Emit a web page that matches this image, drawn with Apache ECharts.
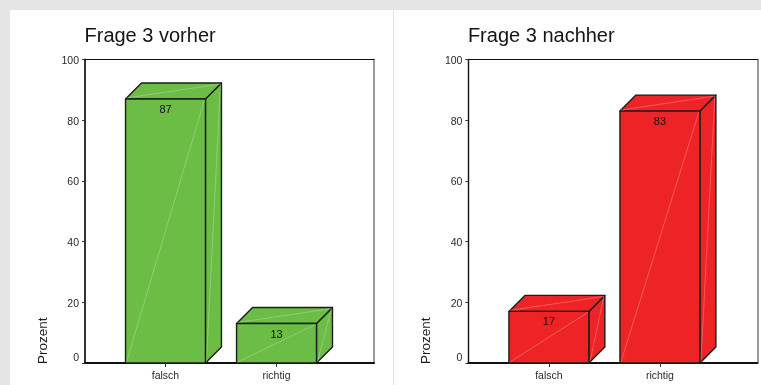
<!DOCTYPE html>
<html>
<head>
<meta charset="utf-8">
<style>
  html, body { margin: 0; padding: 0; background: #e5e5e5; }
  #wrap { position: relative; width: 761px; height: 385px; overflow: hidden; }
  .panel { position: absolute; top: 10px; bottom: 0; background: #fff; }
  #chart { position: absolute; left: 0; top: 0; width: 761px; height: 385px; }
</style>
</head>
<body>
<div id="wrap">
  <div class="panel" style="left:10px;width:383px"></div>
  <div class="panel" style="left:394px;width:367px"></div>
  <div id="chart"></div>
</div>
<script src="https://cdn.jsdelivr.net/npm/echarts@6/dist/echarts.min.js"></script>
<script>
const categories = ['falsch', 'richtig'];
const vorher = [87, 13];
const nachher = [17, 83];
const yTicks = [0, 20, 40, 60, 80, 100];
const titles = ['Frage 3 vorher', 'Frage 3 nachher'];
const yAxisTitle = 'Prozent';
const colors = ['#6bbd45', '#ee2326'];

const FONT = '"Liberation Sans", Arial, sans-serif';
const DEPTH = 16;
const BAR_SPAN = 0.72;
const EDGE = '#1c1c1c';
const SHEEN = 'rgba(255,255,255,0.42)';
const plots = [{ left: 85 }, { left: 468.4 }];
const PLOT_W = 289, PLOT_TOP = 59.5, PLOT_H = 303.5;

// Box with front, top and side faces, plus thin sheen lines across each face.
function renderBox(fill, params, api) {
  const idx = api.value(0), val = api.value(1);
  const top = api.coord([idx, val]);
  const base = api.coord([idx, 0]);
  const w = api.size([BAR_SPAN, 0])[0];
  const x0 = top[0] - w / 2, x1 = top[0] + w / 2, y0 = top[1], y1 = base[1];
  const d = DEPTH;
  const faceStyle = { fill, stroke: EDGE, lineWidth: 1.4, lineJoin: 'round' };
  const poly = pts => ({ type: 'polygon', shape: { points: pts }, style: faceStyle });
  const sheen = (a, b, c, e) => ({
    type: 'line', shape: { x1: a, y1: b, x2: c, y2: e },
    style: { stroke: SHEEN, lineWidth: 0.6 }, silent: true
  });
  return {
    type: 'group',
    children: [
      poly([[x1, y1], [x1 + d, y1 - d], [x1 + d, y0 - d], [x1, y0]]),
      poly([[x0, y0], [x0 + d, y0 - d], [x1 + d, y0 - d], [x1, y0]]),
      poly([[x0, y0], [x1, y0], [x1, y1], [x0, y1]]),
      sheen(x0 + 1, y1 - 1, x1 - 1, y0 + 1),
      sheen(x0 + 1, y0 - 1, x1 + d - 1, y0 - d + 1),
      sheen(x1 + 1, y1 - 1, x1 + d - 1, y0 - d + 1),
      {
        type: 'text',
        style: {
          x: top[0], y: y0 + 11, text: String(val),
          fill: '#111', font: '11px ' + FONT, align: 'center', verticalAlign: 'middle'
        }
      }
    ]
  };
}

const seriesValues = [vorher, nachher];
const textStyle = { color: '#2a2a2a', fontFamily: FONT, fontSize: 10.5 };

const option = {
  animation: false,
  backgroundColor: 'transparent',
  title: plots.map((p, i) => ({
    text: titles[i], left: p.left - 0.5, top: 26, padding: 0,
    textStyle: { fontFamily: FONT, fontSize: 20, fontWeight: 'normal', color: '#141414' }
  })),
  grid: plots.map(p => ({
    left: p.left, top: PLOT_TOP, width: PLOT_W, height: PLOT_H,
    show: false, containLabel: false
  })),
  xAxis: plots.flatMap((p, i) => [
    {
      type: 'value', gridIndex: i, position: 'bottom',
      min: -0.725, max: 1.878,
      splitLine: { show: false },
      axisLine: { show: true, onZero: false, lineStyle: { color: '#111', width: 2 } },
      axisTick: { show: true, customValues: [0, 1], length: 4, lineStyle: { color: '#333', width: 1 } },
      axisLabel: {
        ...textStyle, margin: 8, customValues: [0, 1],
        formatter: v => categories[v]
      }
    },
    {
      type: 'value', gridIndex: i, position: 'top',
      min: -0.725, max: 1.878,
      splitLine: { show: false },
      axisLine: { show: true, onZero: false, lineStyle: { color: '#111', width: 1.2 } },
      axisTick: { show: false }, axisLabel: { show: false }
    }
  ]),
  yAxis: plots.flatMap((p, i) => [
    {
      type: 'value', gridIndex: i, position: 'left',
      min: yTicks[0], max: yTicks[yTicks.length - 1], interval: 20,
      splitLine: { show: false },
      axisLine: { show: true, onZero: false, lineStyle: { color: i ? '#111' : '#333', width: i ? 1.4 : 2 } },
      axisTick: { show: true, length: 3, lineStyle: { color: '#333', width: 1 } },
      axisLabel: {
        margin: 6,
        // The zero label sits above the baseline so it clears the x axis line.
        formatter: v => (v === yTicks[0] ? '{zero|' + v + '}' : '{tick|' + v + '}'),
        rich: {
          zero: { ...textStyle, padding: [0, 0, 9, 0] },
          tick: { ...textStyle, padding: [3, 0, 0, 0] }
        }
      }
    },
    {
      type: 'value', gridIndex: i, position: 'right',
      min: yTicks[0], max: yTicks[yTicks.length - 1], interval: 20,
      splitLine: { show: false },
      axisLine: { show: true, onZero: false, lineStyle: { color: '#777', width: 1.5 } },
      axisTick: { show: false }, axisLabel: { show: false }
    }
  ]),
  series: plots.map((p, i) => ({
    type: 'custom',
    xAxisIndex: i * 2, yAxisIndex: i * 2,
    clip: false,
    z: 5,
    encode: { x: 0, y: 1 },
    data: seriesValues[i].map((v, k) => [k, v]),
    renderItem: (params, api) => renderBox(colors[i], params, api)
  })),
  graphic: plots.map(p => ({
    type: 'text',
    x: p.left - 42, y: 364, rotation: Math.PI / 2,
    style: {
      text: yAxisTitle, fill: '#1c1c1c', font: '13.5px ' + FONT,
      align: 'left', verticalAlign: 'middle'
    }
  }))
};

echarts.init(document.getElementById('chart'), null, { renderer: 'canvas' }).setOption(option);
</script>
</body>
</html>
